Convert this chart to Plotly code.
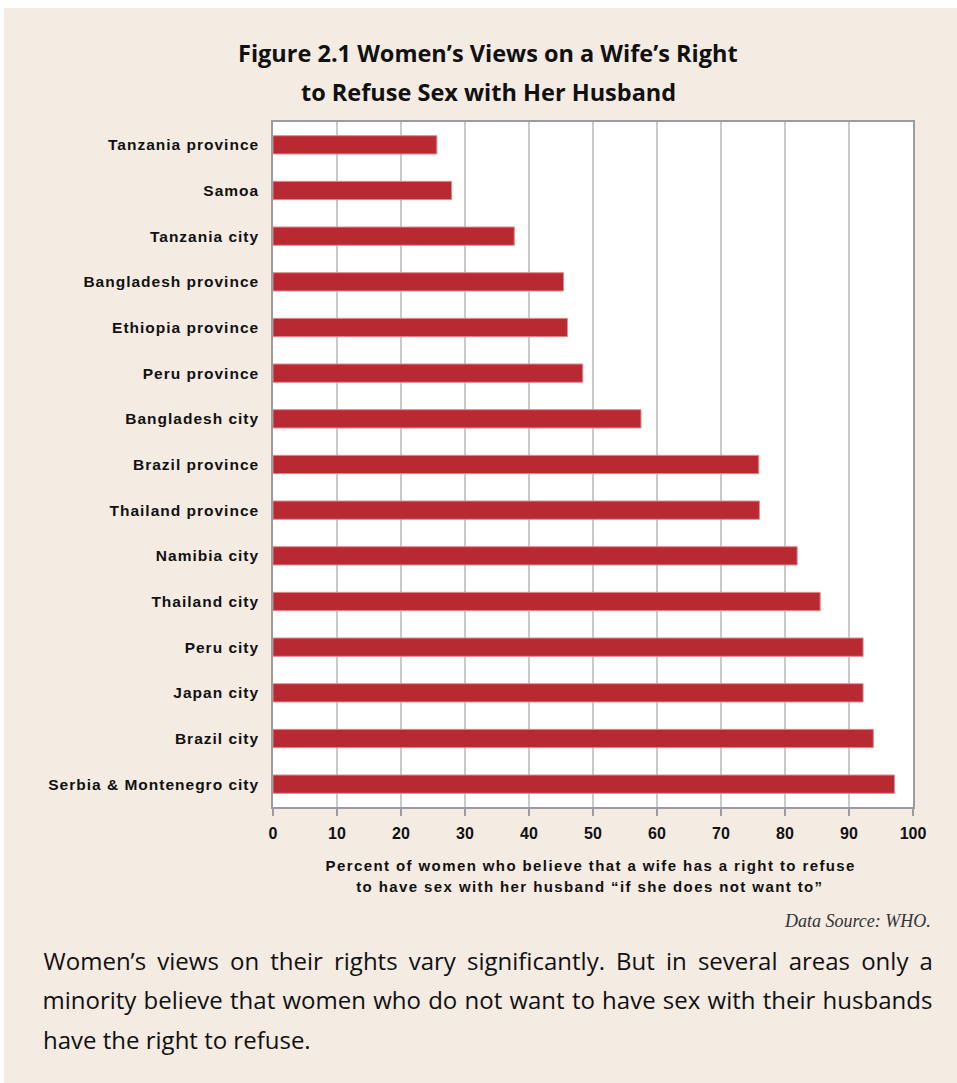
import plotly.graph_objects as go

categories = ["Tanzania province", "Samoa", "Tanzania city", "Bangladesh province",
              "Ethiopia province", "Peru province", "Bangladesh city", "Brazil province",
              "Thailand province", "Namibia city", "Thailand city", "Peru city",
              "Japan city", "Brazil city", "Serbia & Montenegro city"]
values = [25.6, 27.9, 37.7, 45.4, 46.0, 48.4, 57.5, 75.9, 76.0, 81.9, 85.5, 92.2, 92.2, 93.8, 97.1]
x_ticks = list(range(0, 101, 10))

title_lines = ["Figure 2.1 Women\u2019s Views on a Wife\u2019s Right", "to Refuse Sex with Her Husband"]
xaxis_title_lines = ["Percent of women who believe that a wife has a right to refuse",
                     "to have sex with her husband \u201cif she does not want to\u201d"]
source_text = "Data Source: WHO."
caption_lines = ["Women\u2019s views on their rights vary significantly. But in several areas only a",
                 "minority believe that women who do not want to have sex with their husbands",
                 "have the right to refuse."]

W, H = 957, 1083
L, R, T, B = 273, 913, 122, 807
BEIGE = "#F4EBE3"


def px_x(px):
    return (px - L) / (R - L)


def px_y(py):
    return (B - py) / (B - T)


fig = go.Figure()
fig.add_trace(go.Bar(
    y=categories, x=values, orientation="h",
    marker=dict(color="#B92932", line=dict(color="#DC8A8F", width=1)),
    width=0.4, hoverinfo="x+y",
))

fig.update_layout(
    width=W, height=H,
    margin=dict(l=L, r=W - R, t=T, b=H - B, pad=0),
    paper_bgcolor=BEIGE, plot_bgcolor="white",
    showlegend=False,
    xaxis=dict(range=[0, 100], tickvals=x_ticks, ticktext=[str(v) for v in x_ticks],
               showgrid=True, gridcolor="#C9C9C9", gridwidth=1.5,
               showline=True, linecolor="#9C9C9C", linewidth=1.5, mirror=True,
               ticks="outside", ticklen=7, tickcolor="#9C9C9C", tickwidth=1.5,
               ticklabelstandoff=4,
               tickfont=dict(family="Liberation Sans", size=16, color="#111111", weight="bold"),
               zeroline=False, fixedrange=True),
    yaxis=dict(autorange="reversed", showgrid=False,
               showline=True, linecolor="#9C9C9C", linewidth=1.5, mirror=True,
               ticks="outside", ticklen=9, tickcolor="rgba(0,0,0,0)",
               tickfont=dict(family="Liberation Sans", size=15.5, color="#111111", weight="bold"),
               fixedrange=True),
    font=dict(family="Liberation Sans"),
    shapes=[
        dict(type="rect", xref="paper", yref="paper", x0=px_x(0), x1=px_x(4), y0=px_y(H), y1=px_y(0),
             fillcolor="white", line=dict(width=0), layer="below"),
        dict(type="rect", xref="paper", yref="paper", x0=px_x(0), x1=px_x(W), y0=px_y(8), y1=px_y(0),
             fillcolor="white", line=dict(width=0), layer="below"),
    ],
)

ann = []
for i, t in enumerate(title_lines):
    ann.append(dict(text="<b>" + t + "</b>", x=px_x(488), y=px_y(53 + 39 * i), xref="paper", yref="paper",
                    xanchor="center", yanchor="middle", showarrow=False,
                    font=dict(family="Open Sans", size=23.5, color="#111111")))
for i, t in enumerate(xaxis_title_lines):
    ann.append(dict(text="<b>" + t + "</b>", x=px_x(590), y=px_y(865 + 21 * i), xref="paper", yref="paper",
                    xanchor="center", yanchor="middle", showarrow=False,
                    font=dict(family="Liberation Sans", size=15, color="#111111")))
ann.append(dict(text="<i>" + source_text + "</i>", x=px_x(933), y=px_y(921), xref="paper", yref="paper",
                xanchor="right", yanchor="middle", showarrow=False,
                font=dict(family="Liberation Serif", size=18, color="#333333")))
for i, t in enumerate(caption_lines):
    if i < 2:
        ann.append(dict(text=t, x=px_x(487.5), y=px_y(960 + 39.5 * i), xref="paper", yref="paper",
                        xanchor="center", yanchor="middle", showarrow=False,
                        font=dict(family="Open Sans", size=24, color="#111111")))
    else:
        ann.append(dict(text=t, x=px_x(41), y=px_y(960 + 39.5 * i), xref="paper", yref="paper",
                        xanchor="left", yanchor="middle", showarrow=False,
                        font=dict(family="Open Sans", size=24, color="#111111")))
fig.update_layout(annotations=ann)

css = (".ytick text{letter-spacing:1px}"
       "g.annotation[data-index='2'] text, g.annotation[data-index='3'] text{letter-spacing:1.4px}"
       "g.annotation[data-index='5'] text{word-spacing:4.9px}"
       "g.annotation[data-index='6'] text{word-spacing:1px}")
post = ("document.body.style.margin='0';document.body.style.overflow='hidden';"
        "var s=document.createElement('style');s.textContent=\"%s\";document.head.appendChild(s);" % css)

fig.write_html("out.html", post_script=post, config={"displayModeBar": False})
